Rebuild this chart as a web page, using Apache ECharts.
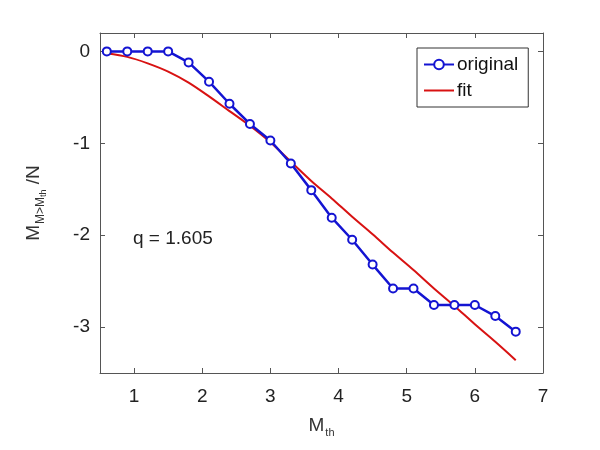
<!DOCTYPE html>
<html>
<head>
<meta charset="utf-8">
<script src="https://cdn.jsdelivr.net/npm/echarts@6/dist/echarts.min.js"></script>
<style>html,body{margin:0;padding:0;background:#fff}#c{width:600px;height:450px}</style>
</head>
<body>
<div id="c"></div>
<script>
const mth = [0.6,0.9,1.2,1.5,1.8,2.1,2.4,2.7,3.0,3.3,3.6,3.9,4.2,4.5,4.8,5.1,5.4,5.7,6.0,6.3,6.6];
const original = [0,0,0,0,-0.12,-0.33,-0.57,-0.79,-0.97,-1.22,-1.51,-1.81,-2.05,-2.32,-2.58,-2.58,-2.76,-2.76,-2.76,-2.88,-3.05];
const fit = [-0.02,-0.06,-0.13,-0.22,-0.34,-0.49,-0.65,-0.81,-0.99,-1.2,-1.41,-1.6,-1.8,-1.99,-2.19,-2.38,-2.58,-2.77,-2.97,-3.16,-3.36];
const xTicks = [1,2,3,4,5,6,7];
const yTicks = [-3,-2,-1,0];
const annotation = 'q = 1.605';

const FONT = 'Liberation Sans, Arial, sans-serif';
const axisLineColor = '#555';
const BLUE = '#1414d2';
const RED = '#d81212';
function xAx(pos, show) {
  return {
    type: 'value', position: pos, min: 0.5, max: 7,
    axisLine: {show: true, onZero: false, lineStyle: {color: axisLineColor, width: 1}},
    axisTick: {show: true, inside: true, length: 5, customValues: xTicks, lineStyle: {color: axisLineColor}},
    axisLabel: {show: show, customValues: xTicks, color: '#222', fontSize: 19, fontFamily: FONT, margin: 14},
    splitLine: {show: false}
  };
}
function yAx(pos, show) {
  return {
    type: 'value', position: pos, min: -3.5, max: 0.2,
    axisLine: {show: true, onZero: false, lineStyle: {color: axisLineColor, width: 1}},
    axisTick: {show: true, inside: true, length: 5, customValues: yTicks, lineStyle: {color: axisLineColor}},
    axisLabel: {show: show, customValues: yTicks, color: '#222', fontSize: 19, fontFamily: FONT, margin: 10},
    splitLine: {show: false}
  };
}
const xa = xAx('bottom', true);
xa.name = '{m|M}{s|th}';
xa.nameLocation = 'middle';
xa.nameGap = 40;
xa.nameTextStyle = {rich: {
  m: {fontSize: 19, fontFamily: FONT, color: '#333'},
  s: {fontSize: 11, fontFamily: FONT, color: '#333', padding: [14, 0, 0, 1]}
}};
const ya = yAx('left', true);
ya.name = '{m|M}{s|M>M}{t|th}{m| /N}';
ya.nameLocation = 'middle';
ya.nameGap = 52;
ya.nameTextStyle = {rich: {
  m: {fontSize: 19, fontFamily: FONT, color: '#333'},
  s: {fontSize: 12, fontFamily: FONT, color: '#333', padding: [14, 0, 0, 1]},
  t: {fontSize: 9, fontFamily: FONT, color: '#333', padding: [20, 0, 0, 0]}
}};
const xTop = xAx('top', false);
const yRight = yAx('right', false);

const chart = echarts.init(document.getElementById('c'), null, {renderer: 'canvas'});
chart.setOption({
  animation: false,
  backgroundColor: '#fff',
  grid: {left: 100, top: 33, right: 57, bottom: 77, containLabel: false},
  xAxis: [xa, xTop],
  yAxis: [ya, yRight],
  legend: {
    orient: 'vertical', left: 417, top: 48, width: 112,
    padding: [7, 10, 7, 6], itemGap: 7, itemWidth: 30, itemHeight: 12,
    borderColor: '#333', borderWidth: 1, backgroundColor: '#fff',
    textStyle: {fontSize: 19, fontFamily: FONT, color: '#111', padding: [0, 0, 0, -2]},
    data: ['original', {name: 'fit', itemStyle: {opacity: 0}}]
  },
  series: [
    {name: 'original', type: 'line', xAxisIndex: 0, yAxisIndex: 0,
     data: mth.map((x, i) => [x, original[i]]),
     symbol: 'emptyCircle', symbolSize: 8,
     lineStyle: {color: BLUE, width: 2.5},
     itemStyle: {color: BLUE, borderWidth: 2.2}, z: 3},
    {name: 'fit', type: 'line', xAxisIndex: 0, yAxisIndex: 0,
     data: mth.map((x, i) => [x, fit[i]]),
     smooth: 0.3, showSymbol: false, symbol: 'none',
     lineStyle: {color: RED, width: 2},
     itemStyle: {color: RED}, z: 2}
  ],
  graphic: [{
    type: 'text', left: 133, top: 229,
    style: {text: annotation, fontSize: 19, fontFamily: FONT, fill: '#222'}
  }]
});
</script>
</body>
</html>
